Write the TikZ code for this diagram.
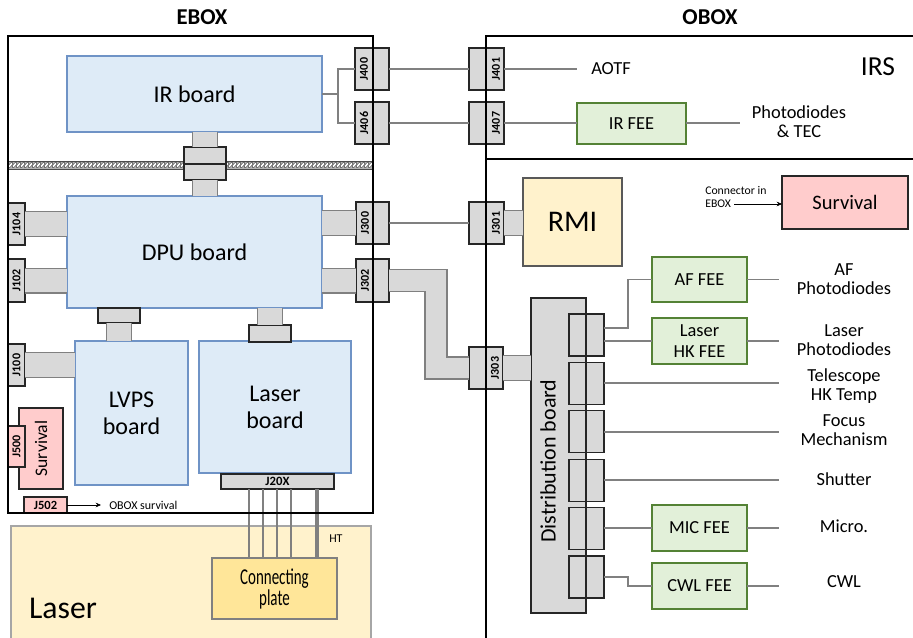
\documentclass[tikz,border=0pt]{standalone}
\usepackage{fontspec}
\setmainfont{Carlito}
\newfontfamily\condfont[FakeStretch=0.66]{Carlito}
\usetikzlibrary{calc,arrows.meta}
\definecolor{bfill}{HTML}{DEEBF7}
\definecolor{bline}{HTML}{6F93C6}
\definecolor{gfill}{HTML}{D9D9D9}
\definecolor{gline}{HTML}{808080}
\definecolor{cline}{HTML}{262626}
\definecolor{ffill}{HTML}{E2F0D9}
\definecolor{fline}{HTML}{548235}
\definecolor{yfill}{HTML}{FFF2CC}
\definecolor{pfill}{HTML}{FFCCCC}
\definecolor{platefill}{HTML}{FFE699}
\definecolor{dline}{HTML}{595959}
\definecolor{lline}{HTML}{A6A6A6}
\newcommand\fs[2]{\fontsize{#1}{#2}\selectfont}
\newcommand\jl[1]{\rotatebox{90}{#1}}
\newcommand\bx[5]{\path let \p1=(#2), \p2=(#3) in node[#1,minimum width={abs(\x2-\x1)},minimum height={abs(\y2-\y1)}] (#4) at ({(\x1+\x2)/2},{(\y1+\y2)/2}) {#5};}
\begin{document}
\begin{tikzpicture}[x=0.75pt,y=-0.75pt,
 base/.style={inner sep=0pt,outer sep=0pt,align=center},
 board/.style={base,draw=bline,fill=bfill,line width=0.9pt,font=\fs{18}{20}},
 conn/.style={base,draw=cline,fill=gfill,line width=0.9pt,font=\fs{9}{10}\bfseries},
 pconn/.style={conn,fill=pfill},
 jt/.style={inner sep=0pt,font=\fs{9}{10}\bfseries},
 fee/.style={base,draw=fline,fill=ffill,line width=0.9pt,font=\fs{13.8}{15.5}},
 strip/.style={draw=gline,line width=0.9pt,double=gfill,double distance=17.7pt},
 cable/.style={strip,double distance=15.5pt,line join=miter},
 wire/.style={draw=gline,line width=1.4pt},
 lab/.style={align=center,font=\fs{13.8}{14.3}},
 boxline/.style={line width=1.9pt,draw=black}]
\useasboundingbox (0,0) rectangle (913,638);

% Laser enclosure
\bx{base,draw=lline,fill=yfill,line width=0.9pt}{11,526}{371,660}{laserbox}{}
\bx{base,draw=gline,fill=platefill,line width=0.9pt,font=\condfont\fs{17}{12.5}}{212,558}{337,619}{plate}{Connecting\\plate}
\node[font=\fs{23.8}{26}] (lasertxt) at (63,608) {Laser};

% rope band
\fill[black!30] (8,161) rectangle (372,169);
\foreach \i in {0,...,90}{
  \draw[fill=white,draw=black!80,line width=0.3pt,rotate around={-35:({10.5+4*\i},165)}] ({10.5+4*\i},165) ellipse (1.4 and 3.3);
}
\draw[black!70,line width=0.5pt] (8,161) -- (372,161) (8,169) -- (372,169);

% boards
\bx{board}{67,56}{322,132}{irb}{IR board}
\bx{board}{67,196}{322,308}{dpu}{DPU board}
\bx{board,font=\fs{18}{20.3}}{75,341}{188,485}{lvps}{LVPS\\board}
\bx{board,font=\fs{18}{20.3}}{199,341}{351,473}{lasb}{Laser\\board}

% EBOX connectors
\bx{conn}{184,147}{226,164}{irc1}{}
\bx{conn}{184,164}{226,180}{irc2}{}
\bx{conn}{8,203}{25,245}{j104}{\jl{J104}}
\bx{conn}{8,259}{25,302}{j102}{\jl{J102}}
\bx{conn}{8,344}{25,386}{j100}{\jl{J100}}
\bx{conn}{356,202}{389,244}{j300}{}
\bx{conn}{356,259}{389,302}{j302}{}
\bx{conn}{355,48}{389,90}{j400}{}
\bx{conn}{355,102}{389,144}{j406}{}
\node[jt] (j300t) at ($(j300.west)+(9,0)$) {\jl{J300}};
\node[jt] (j302t) at ($(j302.west)+(9,0)$) {\jl{J302}};
\node[jt] (j400t) at ($(j400.west)+(9,0)$) {\jl{J400}};
\node[jt] (j406t) at ($(j406.west)+(9,0)$) {\jl{J406}};
\bx{conn}{98,308}{140,323}{lv1}{}
\bx{conn}{249,325}{291,342}{la1}{}
\bx{conn,font=\fs{9.5}{10}\bfseries}{221,474}{334,489}{j20x}{J20X}
\bx{base,draw=cline,fill=pfill,line width=0.9pt,font=\fs{13.2}{15}}{19,408}{63,489}{survl}{\jl{Survival}}
\bx{pconn}{8,426}{25,467}{j500}{\jl{J500}}
\bx{pconn,font=\fs{9.4}{10}\bfseries}{24,497}{67,513}{j502}{J502}

% strips inside EBOX
\draw[strip] (irc1.north |- irb.south) -- (irc1.north);
\draw[strip] (irc2.south) -- (irc2.south |- dpu.north);
\draw[strip] (j104.east) -- (j104.east -| dpu.west);
\draw[strip] (j102.east) -- (j102.east -| dpu.west);
\draw[strip] (j100.east) -- (j100.east -| lvps.west);
\draw[strip] (dpu.east |- j300.west) -- (j300.west);
\draw[strip] (dpu.east |- j302.west) -- (j302.west);
\draw[strip] (lv1.south) -- (lv1.south |- lvps.north);
\draw[strip] (la1.north |- dpu.south) -- (la1.north);

% IR board to J400/J406
\coordinate (irbr) at (338,94);
\draw[wire] (irb.east) -- (irbr);
\draw[wire] (j400.west) -| (irbr) |- (j406.west);

% J20X wires
\foreach \x in {249,263,277,291}{\draw[wire] (\x,0 |- j20x.south) -- (\x,0 |- plate.north);}
\draw[wire,line width=2.6pt] (317,0 |- j20x.south) -- (317,0 |- plate.north);
\node[font=\fs{9}{10},anchor=west,inner sep=0pt] (ht) at (329,539) {HT};

% J502 arrow
\node[font=\fs{9}{10},anchor=west,inner sep=0pt] (obs) at (109,505) {OBOX survival};
\draw[-{Stealth[length=4pt,width=3.5pt]},line width=0.5pt] (j502.east) -- ([xshift=-6pt]obs.west);

% OBOX side
\bx{conn}{469,48}{504,90}{j401}{}
\bx{conn}{469,102}{504,144}{j407}{}
\bx{conn}{469,202}{504,244}{j301}{}
\bx{conn}{469,347}{503,389}{j303}{}
\node[jt] (j401t) at ($(j401.east)+(-8,0)$) {\jl{J401}};
\node[jt] (j407t) at ($(j407.east)+(-8,0)$) {\jl{J407}};
\node[jt] (j301t) at ($(j301.east)+(-8,0)$) {\jl{J301}};
\node[jt] (j303t) at ($(j303.east)+(-8,0)$) {\jl{J303}};
\bx{fee}{577,103}{686,144}{irfee}{IR FEE}
\bx{base,draw=dline,fill=yfill,line width=0.9pt,font=\fs{22.5}{24}}{523,178}{622,266}{rmi}{RMI}
\bx{base,draw=cline,fill=pfill,line width=0.9pt,font=\fs{15.4}{17}}{782,176}{908,229}{survr}{Survival}
\node[anchor=west,align=left,font=\fs{8.8}{9.75},inner sep=0pt] (cin) at (705,197.5) {Connector in\\EBOX};
\coordinate (cina) at (734,204);
\draw[-{Stealth[length=4pt,width=3.5pt]},line width=0.5pt] (cina) -- (cina -| survr.west);

\draw[wire] (j400.east) -- (j401.west);
\draw[wire] (j406.east) -- (j407.west);
\draw[wire] (j300.east) -- (j301.west);
\coordinate (aotfend) at (577,69);
\draw[wire] (j401.east) -- (aotfend);
\node[font=\fs{13.8}{15},anchor=west,inner sep=0pt] (aotf) at (591,69) {AOTF};
\draw[wire] (j407.east) -- (j407.east -| irfee.west);
\coordinate (irend) at (740,123);
\draw[wire] (irfee.east |- irend) -- (irend);
\node[lab] (pdtec) at (799,121.5) {Photodiodes\\\& TEC};
\node[font=\fs{20.6}{22}] (irs) at (878,67) {IRS};

\draw[strip] (j301.east) -- (j301.east -| rmi.west);
\draw[cable] (j302.east) -| ++(47,50) |- (j303.west);

% distribution board
\bx{base,fill=gfill,draw=cline,line width=0.9pt}{531,298}{586,613}{db}{}
\draw[strip] (j303.east) -- (j303.east -| db.west);
\node[font=\fs{16.5}{18}] (dbt) at (548,461) {\rotatebox{90}{Distribution board}};
\foreach \i in {1,...,6}{
  \pgfmathsetmacro\yt{314+48.4*(\i-1)}
  \pgfmathsetmacro\yb{\yt+42}
  \bx{conn}{569,\yt}{604,\yb}{c\i}{}
}
\draw[line width=0.9pt,cline] (db.north east) -- (db.south east);

\bx{fee}{652,257}{747,302}{af}{AF FEE}
\bx{fee}{652,318}{747,364}{lhk}{Laser\\HK FEE}
\bx{fee}{652,505}{747,551}{mic}{MIC FEE}
\bx{fee}{652,563}{747,609}{cwl}{CWL FEE}
\coordinate (xend) at (779,0);

\draw[wire] ($(c1.east)+(0,-7)$) -| ($(af.west)+(-24,0)$) -- (af.west);
\draw[wire] (c1.east |- lhk.west) -- (lhk.west);
\draw[wire] (c2.east) -- (c2.east -| xend);
\draw[wire] (c3.east) -- (c3.east -| xend);
\draw[wire] (c4.east) -- (c4.east -| xend);
\draw[wire] (c5.east |- mic.west) -- (mic.west);
\draw[wire] (c6.east) -| ($(cwl.west)+(-24,0)$) -- (cwl.west);
\draw[wire] (af.east) -- (af.east -| xend);
\draw[wire] (lhk.east) -- (lhk.east -| xend);
\draw[wire] (mic.east) -- (mic.east -| xend);
\draw[wire] (cwl.east) -- (cwl.east -| xend);

\node[lab] (l1) at (844,279) {AF\\Photodiodes};
\node[lab] (l2) at (844,340) {Laser\\Photodiodes};
\node[lab] (l3) at (844,386.5) {Telescope\\HK Temp};
\node[lab] (l4) at (844,430.5) {Focus\\Mechanism};
\node[lab] (l5) at (844,479) {Shutter};
\node[lab] (l6) at (844,526) {Micro.};
\node[lab] (l7) at (844,582) {CWL};

% enclosures
\bx{boxline,inner sep=0pt,outer sep=0pt}{8,36}{373,513}{ebox}{}
\draw[boxline] (486,660) -- (486,36) -- (930,36);
\draw[boxline] (486,159) -- (930,159);
\node[font=\fs{17}{18}\bfseries] (eboxt) at (202,17) {EBOX};
\node[font=\fs{17}{18}\bfseries] (oboxt) at (710,17) {OBOX};
\end{tikzpicture}
\end{document}
